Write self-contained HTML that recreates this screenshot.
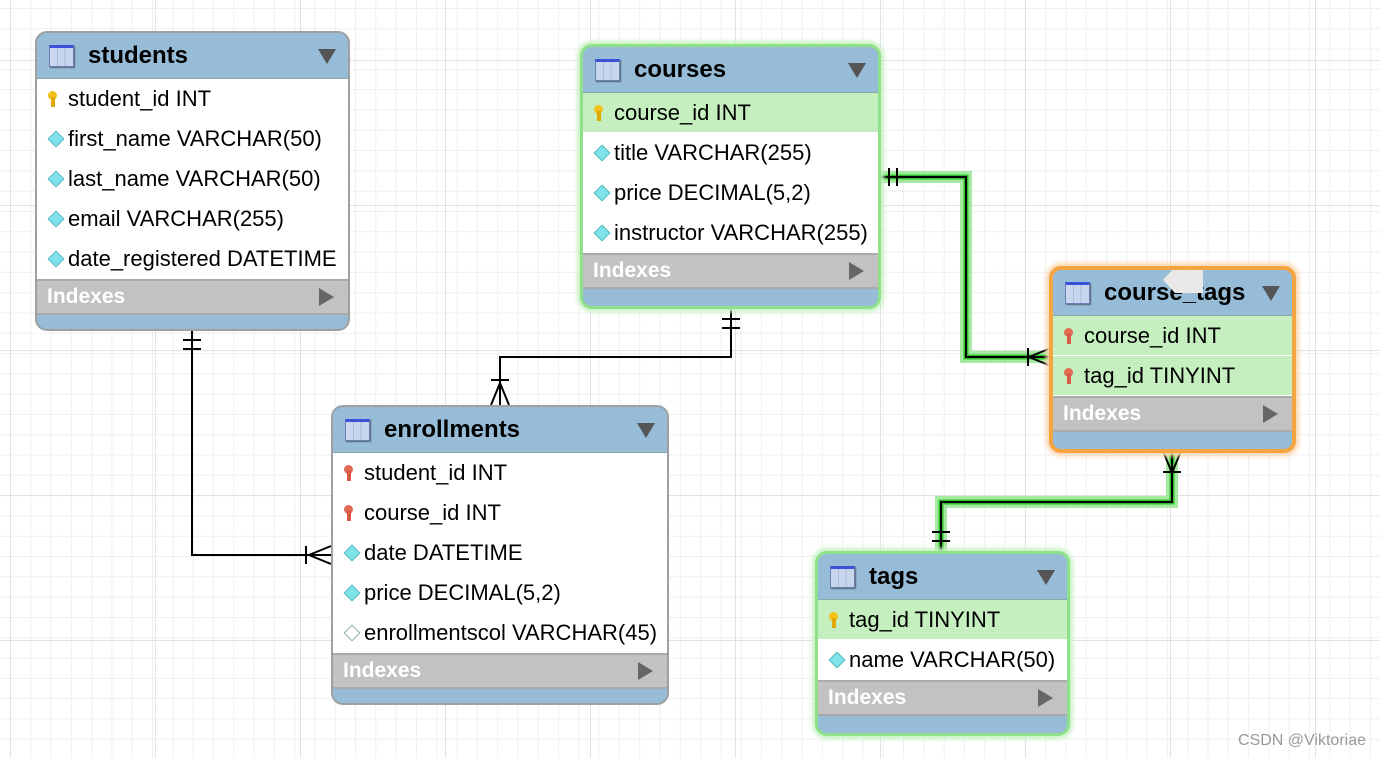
<!DOCTYPE html>
<html><head><meta charset="utf-8"><style>
*{box-sizing:border-box;margin:0;padding:0}
body{width:1380px;height:758px;position:relative;overflow:hidden;background:#fff;
background-image:linear-gradient(#e2e2e2 1px,transparent 1px),linear-gradient(90deg,#e2e2e2 1px,transparent 1px),linear-gradient(#efefef 1px,transparent 1px),linear-gradient(90deg,#efefef 1px,transparent 1px);
background-size:145px 145px,145px 145px,20.3px 20.3px,20.3px 20.3px;background-position:0 60px,10px 0,0 8px,10px 0;
font-family:"Liberation Sans",Arial,sans-serif}
.t{position:absolute;border:2px solid #a0a0a0;border-radius:12px;overflow:hidden;background:#96bcd8}
.h{height:46px;position:relative;border-bottom:1px solid #8aa}
.h .ic{position:absolute;left:12px;top:12px;width:25px;height:22px;border:1px solid #6a7fb0;border-top:3px solid #3c50d8;background:linear-gradient(90deg,#c8d6ee 0,#c8d6ee 30%,#a9bde0 30%,#a9bde0 34%,#c8d6ee 34%,#c8d6ee 64%,#a9bde0 64%,#a9bde0 68%,#c8d6ee 68%);box-shadow:1px 1px 1px #567}
.h b{position:absolute;left:51px;top:9px;font-size:24px;font-weight:bold;color:#000}
.h .dd{position:absolute;right:12px;top:16px;width:0;height:0;border-left:9px solid transparent;border-right:9px solid transparent;border-top:15px solid #555}
.r{height:40px;background:#fff;font-size:22px;line-height:40px;padding-left:31px;position:relative;color:#000;white-space:nowrap}
.r.g{background:#c6efc0;border-bottom:1px solid #fff}
.r i{position:absolute;left:11px;top:12px}
.k{width:8px;height:16px;}
.k:before{content:"";position:absolute;left:0;top:0;width:9px;height:9px;border-radius:50%;background:#f3c21a}
.k:after{content:"";position:absolute;left:3px;top:6px;width:4px;height:10px;background:#e0a800}
.fk:before{background:#e26a55}.fk:after{background:#d65a45}
.d{width:12px;height:12px;background:#7fe3ec;transform:rotate(45deg);border:1px solid #5bb;left:13px!important;top:14px!important}
.d.e{background:#fff;border:1px solid #8aa}
.ix{height:36px;background:#c2c2c2;border-top:2px solid #aaa;color:#fff;font-weight:bold;font-size:21px;line-height:32px;padding-left:10px;position:relative;border-bottom:2px solid #aaa}
.ix:after{content:"";position:absolute;right:14px;top:7px;border-top:9px solid transparent;border-bottom:9px solid transparent;border-left:15px solid #666}
.wm{position:absolute;right:14px;bottom:8px;color:#999;font-size:16px}
</style></head><body>
<svg width="1380" height="758" style="position:absolute;left:0;top:0">
<g fill="none" stroke="#8fe58a" stroke-width="12" opacity=".8">
<polyline points="879,177 966,177 966,357 1051,357"/>
<polyline points="1172,451 1172,502 941,502 941,553"/>
</g>
<g fill="none" stroke="#2fbf2a" stroke-width="5">
<polyline points="879,177 966,177 966,357 1051,357"/>
<polyline points="1172,451 1172,502 941,502 941,553"/>
</g>
<g fill="none" stroke="#000" stroke-width="2">
<polyline points="879,177 966,177 966,357 1051,357"/>
<polyline points="1172,451 1172,502 941,502 941,553"/>
<polyline points="192,330 192,555 331,555"/>
<polyline points="731,308 731,357 500,357 500,405"/>
<path d="M183,340h18M183,349h18M306,546v18M331,546l-22,9l22,9"/>
<path d="M722,319h18M722,328h18M491,380h18M491,405l9,-22l9,22"/>
<path d="M889,168v18M897,168v18M1028,348v18M1051,348l-22,9l22,9"/>
<path d="M1163,472h18M1163,451l9,22l9,-22M932,532h18M932,541h18"/>
</g>
</svg>
<div class="t" style="left:35px;top:31px;width:315px;height:300px">
<div class="h"><span class="ic"></span><b>students</b><span class="dd"></span></div>
<div class="r"><i class="k"></i>student_id INT</div>
<div class="r"><i class="d"></i>first_name VARCHAR(50)</div>
<div class="r"><i class="d"></i>last_name VARCHAR(50)</div>
<div class="r"><i class="d"></i>email VARCHAR(255)</div>
<div class="r"><i class="d"></i>date_registered DATETIME</div>
<div class="ix">Indexes</div></div>
<div class="t" style="left:580px;top:44px;width:301px;height:265px;border:3px solid #8fe08a;box-shadow:0 0 4px 3px #c8f2c4">
<div class="h"><span class="ic"></span><b>courses</b><span class="dd"></span></div>
<div class="r g"><i class="k"></i>course_id INT</div>
<div class="r"><i class="d"></i>title VARCHAR(255)</div>
<div class="r"><i class="d"></i>price DECIMAL(5,2)</div>
<div class="r"><i class="d"></i>instructor VARCHAR(255)</div>
<div class="ix">Indexes</div></div>
<div class="t" style="left:1049px;top:266px;width:247px;height:187px;border:4px solid #f5a442;box-shadow:0 0 4px 3px #fbd6b0">
<div class="h"><span class="ic"></span><b>course_tags</b><span class="dd"></span>
<span style="position:absolute;left:110px;top:-3px;width:40px;height:26px;background:#e8e8e8;clip-path:polygon(30% 0,100% 0,100% 100%,30% 100%,0 50%)"></span></div>
<div class="r g"><i class="k fk"></i>course_id INT</div>
<div class="r g"><i class="k fk"></i>tag_id TINYINT</div>
<div class="ix">Indexes</div></div>
<div class="t" style="left:331px;top:405px;width:338px;height:300px">
<div class="h"><span class="ic"></span><b>enrollments</b><span class="dd"></span></div>
<div class="r"><i class="k fk"></i>student_id INT</div>
<div class="r"><i class="k fk"></i>course_id INT</div>
<div class="r"><i class="d"></i>date DATETIME</div>
<div class="r"><i class="d"></i>price DECIMAL(5,2)</div>
<div class="r"><i class="d e"></i>enrollmentscol VARCHAR(45)</div>
<div class="ix">Indexes</div></div>
<div class="t" style="left:815px;top:551px;width:255px;height:185px;border:3px solid #8fe08a;box-shadow:0 0 4px 3px #c8f2c4">
<div class="h"><span class="ic"></span><b>tags</b><span class="dd"></span></div>
<div class="r g"><i class="k"></i>tag_id TINYINT</div>
<div class="r"><i class="d"></i>name VARCHAR(50)</div>
<div class="ix">Indexes</div></div>
<div class="wm">CSDN @Viktoriae</div>
</body></html>
